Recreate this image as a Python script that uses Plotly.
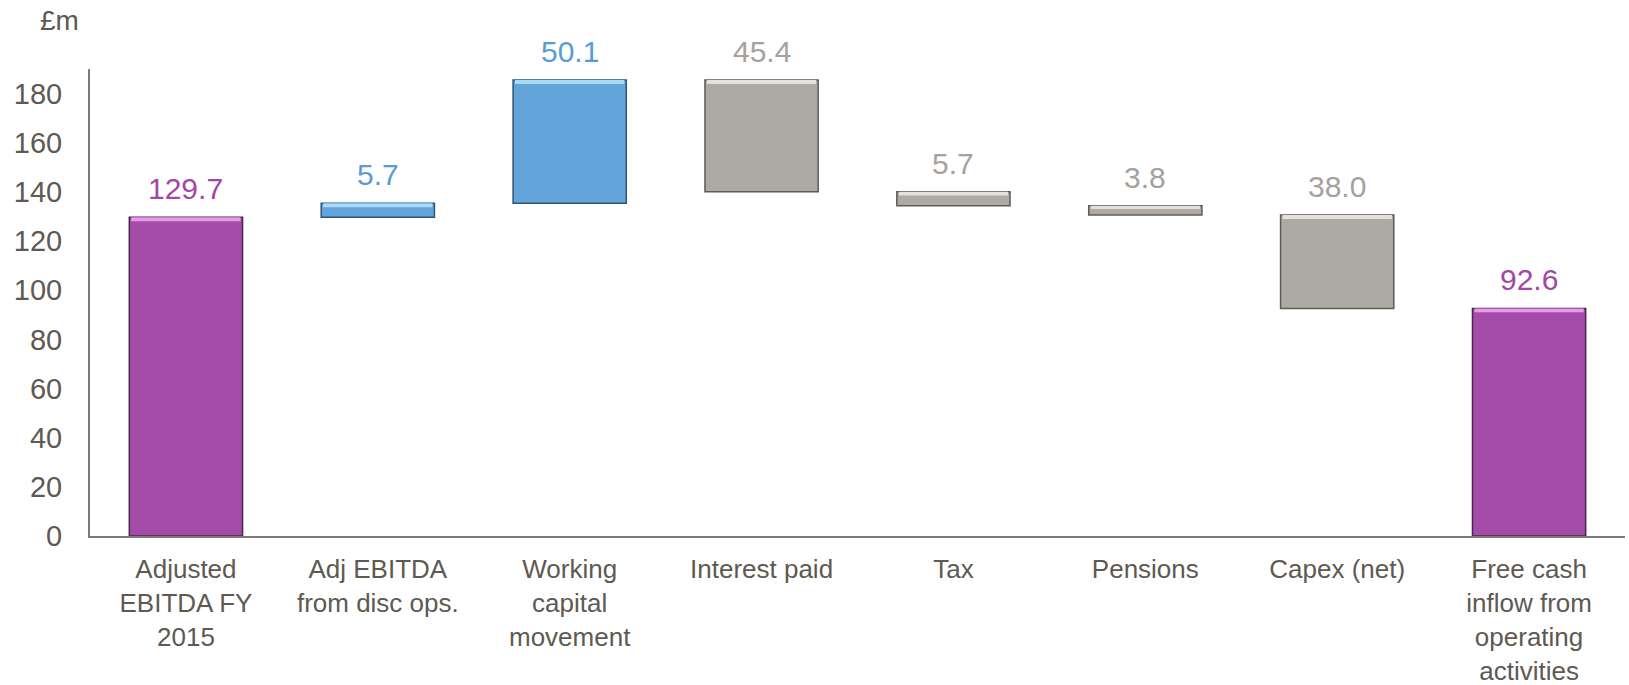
import plotly.graph_objects as go

categories = ["Adjusted<br>EBITDA FY<br>2015", "Adj EBITDA<br>from disc ops.", "Working<br>capital<br>movement",
              "Interest paid", "Tax", "Pensions", "Capex (net)",
              "Free cash<br>inflow from<br>operating<br>activities"]
values = [129.7, 5.7, 50.1, -45.4, -5.7, -3.8, -38.0, 92.6]
kinds = ["total", "up", "up", "down", "down", "down", "down", "total"]
labels = ["129.7", "5.7", "50.1", "45.4", "5.7", "3.8", "38.0", "92.6"]

fill = {"total": "#A54CA8", "up": "#63A5DA", "down": "#ADA9A5"}
edge = {"total": "#4A2450", "up": "#2E5573", "down": "#5F5B57"}
hilite = {"total": "#E69BEA", "up": "#A8DCF6", "down": "#E4E0DC"}
textc = {"total": "#A346A6", "up": "#5B9BD5", "down": "#A6A19D"}

bases, heights = [], []
running = 0.0
for v, k in zip(values, kinds):
    if k == "total":
        bases.append(0.0)
        heights.append(v)
        running = v
    else:
        new = running + v
        bases.append(min(running, new))
        heights.append(abs(v))
        running = new
tops = [b + h for b, h in zip(bases, heights)]

fig = go.Figure()
fig.add_trace(go.Bar(
    x=categories, y=heights, base=bases,
    marker=dict(color=[fill[k] for k in kinds],
                line=dict(color=[edge[k] for k in kinds], width=1.5)),
    width=0.59, hoverinfo="skip", showlegend=False))
hl = [min(1.6, h * 0.35) for h in heights]
fig.add_trace(go.Bar(
    x=categories, y=hl, base=[t - h for t, h in zip(tops, hl)],
    marker=dict(color=[hilite[k] for k in kinds], line=dict(width=0)),
    width=0.57, hoverinfo="skip", showlegend=False))

for c, t, lab, k in zip(categories, tops, labels, kinds):
    fig.add_annotation(x=c, y=t, text=lab, showarrow=False, yanchor="bottom", yshift=10,
                       font=dict(family="Liberation Sans, Arial", size=30, color=textc[k]))

fig.add_annotation(xref="paper", yref="paper", x=-0.034, y=1.0, yshift=49, xanchor="left", yanchor="middle",
                   text="£m", showarrow=False,
                   font=dict(family="Liberation Sans, Arial", size=28, color="#5E5953"))

fig.update_layout(
    width=1629, height=685, barmode="overlay",
    margin=dict(l=90, r=4, t=69, b=149),
    paper_bgcolor="white", plot_bgcolor="white",
    font=dict(family="Liberation Sans, Arial", size=28, color="#5E5953"),
    xaxis=dict(showline=True, linecolor="#7F7A75", linewidth=2, ticks="", showgrid=False, automargin=False,
               tickfont=dict(size=26, color="#5E5953"), ticklabelstandoff=9),
    yaxis=dict(range=[0, 190], tickvals=list(range(0, 181, 20)), showline=True, linecolor="#7F7A75",
               linewidth=2, ticks="", showgrid=False, zeroline=False, automargin=False,
               tickfont=dict(size=29, color="#5E5953"), ticklabelstandoff=20),
)
fig.write_html("out.html")
